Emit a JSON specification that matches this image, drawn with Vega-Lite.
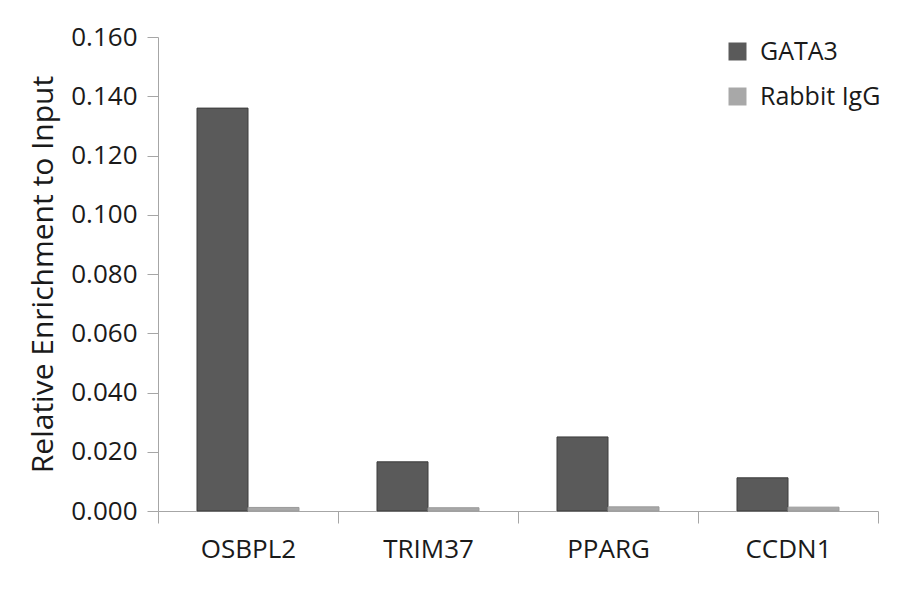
{
  "$schema": "https://vega.github.io/schema/vega-lite/v6.json",
  "description": "Relative enrichment to input, GATA3 vs Rabbit IgG",
  "autosize": "none",
  "width": 720,
  "height": 474,
  "padding": {"left": 158, "top": 37, "right": 22, "bottom": 83},
  "background": "white",
  "data": {
    "values": [
      {"gene": "OSBPL2", "antibody": "GATA3", "value": 0.136},
      {"gene": "OSBPL2", "antibody": "Rabbit IgG", "value": 0.0012},
      {"gene": "TRIM37", "antibody": "GATA3", "value": 0.0166},
      {"gene": "TRIM37", "antibody": "Rabbit IgG", "value": 0.0011},
      {"gene": "PPARG", "antibody": "GATA3", "value": 0.025},
      {"gene": "PPARG", "antibody": "Rabbit IgG", "value": 0.0014},
      {"gene": "CCDN1", "antibody": "GATA3", "value": 0.0112},
      {"gene": "CCDN1", "antibody": "Rabbit IgG", "value": 0.0013}
    ]
  },
  "mark": {"type": "bar", "strokeWidth": 1},
  "encoding": {
    "x": {
      "field": "gene",
      "type": "nominal",
      "sort": ["OSBPL2", "TRIM37", "PPARG", "CCDN1"],
      "scale": {"paddingInner": 0, "paddingOuter": 0},
      "axis": {
        "title": null,
        "labelAngle": 0,
        "tickBand": "extent",
        "tickSize": 12,
        "labelPadding": 13,
        "labelFontSize": 26
      }
    },
    "xOffset": {
      "field": "antibody",
      "sort": ["GATA3", "Rabbit IgG"],
      "scale": {"paddingInner": 0, "paddingOuter": 0.765}
    },
    "y": {
      "field": "value",
      "type": "quantitative",
      "scale": {"domain": [0, 0.16]},
      "axis": {
        "title": "Relative Enrichment to Input",
        "values": [0, 0.02, 0.04, 0.06, 0.08, 0.1, 0.12, 0.14, 0.16],
        "format": ".3f",
        "grid": false,
        "tickSize": 11,
        "labelPadding": 10,
        "labelFontSize": 26,
        "titleFontSize": 30,
        "titleFontWeight": "normal",
        "titlePadding": 12
      }
    },
    "color": {
      "field": "antibody",
      "type": "nominal",
      "sort": ["GATA3", "Rabbit IgG"],
      "scale": {"domain": ["GATA3", "Rabbit IgG"], "range": ["#5a5a5a", "#a8a8a8"]},
      "legend": {
        "title": null,
        "orient": "none",
        "legendX": 567,
        "legendY": 2,
        "symbolType": "square",
        "symbolSize": 324,
        "symbolStrokeWidth": 0,
        "labelFontSize": 25,
        "labelOffset": 10,
        "rowPadding": 19,
        "padding": 0
      }
    },
    "stroke": {
      "field": "antibody",
      "type": "nominal",
      "scale": {"domain": ["GATA3", "Rabbit IgG"], "range": ["#3c3c3c", "#9a9a9a"]},
      "legend": null
    }
  },
  "config": {
    "font": "Open Sans",
    "view": {"stroke": null},
    "axis": {
      "domainColor": "#a6a6a6",
      "tickColor": "#a6a6a6",
      "labelColor": "#1a1a1a",
      "titleColor": "#1a1a1a",
      "labelFont": "Open Sans",
      "titleFont": "Open Sans"
    },
    "legend": {"labelColor": "#1a1a1a", "labelFont": "Open Sans"}
  }
}
